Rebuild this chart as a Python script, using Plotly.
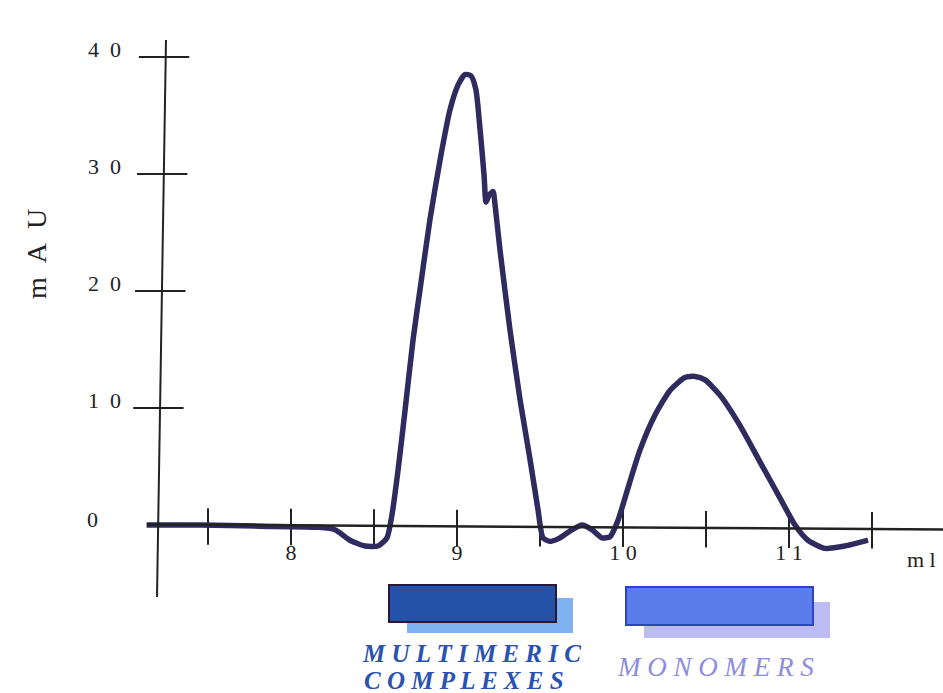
import plotly.graph_objects as go

# ---- data ----
time_ml = [7.13, 7.45, 7.81, 8.17, 8.265, 8.355, 8.446, 8.524, 8.578, 8.608, 8.645, 8.687, 8.735,
           8.777, 8.837, 8.898, 8.958, 9.006, 9.048, 9.084, 9.114, 9.139, 9.163, 9.175, 9.193,
           9.217, 9.229, 9.259, 9.319, 9.380, 9.440, 9.488, 9.518, 9.560, 9.620, 9.693, 9.753,
           9.813, 9.873, 9.922, 9.970, 10.018, 10.102, 10.193, 10.283, 10.373, 10.434, 10.494,
           10.584, 10.705, 10.825, 10.946, 11.036, 11.114, 11.217, 11.337, 11.476]
absorbance_mau = [0.0, 0.0, -0.1, -0.2, -0.4, -1.3, -1.8, -1.8, -1.1, 0.85, 4.7, 9.8, 15.8,
                  20.1, 26.1, 31.2, 35.5, 37.6, 38.5, 38.4, 37.2, 33.8, 29.9, 27.6, 28.2,
                  28.5, 27.4, 23.5, 16.7, 10.7, 5.6, 1.3, -1.1, -1.4, -1.1, -0.4, 0.0,
                  -0.4, -1.1, -1.0, 0.4, 2.6, 6.4, 9.4, 11.5, 12.6, 12.7, 12.4,
                  11.1, 8.5, 5.4, 2.3, 0.0, -1.3, -2.0, -1.8, -1.3]

y_tick_values = [40, 30, 20, 10]
y_tick_labels = ["4\u00a0\u00a00", "3\u00a0\u00a00", "2\u00a0\u00a00", "1\u00a0\u00a00"]
x_tick_values = [7.5, 8, 8.5, 9, 9.5, 10, 10.5, 11, 11.5]
x_label_values = [8, 9, 10, 11]
x_label_texts = ["8", "9", "1 0", "1 1"]

SERIF = "Liberation Serif, Times New Roman, serif"
CURVE = "#2f2b5e"
W, H = 943, 693

# pixel -> data helpers for the frame (figure fills the window, no margins)
def px_x(px):
    return 8 + (px - 291) / 166.0

def px_y(py):
    return (525 - py) / 11.7

X_RANGE = [px_x(0), px_x(W)]
Y_RANGE = [px_y(H), px_y(0)]

# slanted y-axis line
yax_top = (px_x(166), px_y(40))
yax_bot = (px_x(157), px_y(597))

def yaxis_x_at(v):
    t = (v - yax_bot[1]) / (yax_top[1] - yax_bot[1])
    return yax_bot[0] + t * (yax_top[0] - yax_bot[0])

fig = go.Figure()

# y-axis ticks (cross the axis)
fig.add_trace(go.Scatter(
    x=[yaxis_x_at(v) - 0.01 for v in y_tick_values], y=y_tick_values, mode="markers",
    marker=dict(symbol="line-ew", size=36, line=dict(width=2, color="#222")),
    hoverinfo="skip", showlegend=False))

# x-axis ticks
fig.add_trace(go.Scatter(
    x=x_tick_values, y=[-0.1 - 0.08 * (v - 7.13) for v in x_tick_values], mode="markers",
    marker=dict(symbol="line-ns", size=26, line=dict(width=2, color="#222")),
    hoverinfo="skip", showlegend=False))

# chromatogram curve
fig.add_trace(go.Scatter(
    x=time_ml, y=absorbance_mau, mode="lines",
    line=dict(color=CURVE, width=5.5, shape="spline", smoothing=0.6),
    hoverinfo="skip", showlegend=False))

# y tick labels
fig.add_trace(go.Scatter(
    x=[px_x(121)] * len(y_tick_values), y=[v + 0.45 for v in y_tick_values], mode="text",
    text=y_tick_labels, textposition="middle left",
    textfont=dict(family=SERIF, size=22, color="#222"),
    hoverinfo="skip", showlegend=False))
fig.add_trace(go.Scatter(
    x=[px_x(98)], y=[0.3], mode="text", text=["0"], textposition="middle left",
    textfont=dict(family=SERIF, size=22, color="#222"), hoverinfo="skip", showlegend=False))

# x tick labels
fig.add_trace(go.Scatter(
    x=x_label_values, y=[px_y(554)] * len(x_label_values), mode="text",
    text=x_label_texts, textposition="middle center",
    textfont=dict(family=SERIF, size=22, color="#222"),
    hoverinfo="skip", showlegend=False))
fig.add_trace(go.Scatter(
    x=[px_x(907)], y=[px_y(561)], mode="text", text=["m l"], textposition="middle right",
    textfont=dict(family=SERIF, size=22, color="#222"), hoverinfo="skip", showlegend=False))

def pxp(px):
    return px / W

def pyp(py):
    return 1 - py / H

shapes = [
    # x-axis line
    dict(type="line", xref="x", yref="y", x0=px_x(147), y0=0.05, x1=px_x(W), y1=-0.38,
         line=dict(color="#222", width=2.5)),
    # y-axis line
    dict(type="line", xref="x", yref="y", x0=yax_top[0], y0=yax_top[1], x1=yax_bot[0], y1=yax_bot[1],
         line=dict(color="#222", width=2)),
    # legend boxes (shadow first)
    dict(type="rect", xref="paper", yref="paper", x0=pxp(407), x1=pxp(573), y0=pyp(633), y1=pyp(598),
         fillcolor="#7fb2f2", line=dict(width=0), layer="above"),
    dict(type="rect", xref="paper", yref="paper", x0=pxp(389), x1=pxp(556), y0=pyp(622), y1=pyp(585),
         fillcolor="#2352a8", line=dict(width=2, color="#2a1838"), layer="above"),
    dict(type="rect", xref="paper", yref="paper", x0=pxp(644), x1=pxp(830), y0=pyp(638), y1=pyp(602),
         fillcolor="#bcbcf2", line=dict(width=0), layer="above"),
    dict(type="rect", xref="paper", yref="paper", x0=pxp(626), x1=pxp(813), y0=pyp(625), y1=pyp(587),
         fillcolor="#5b7ceb", line=dict(width=2, color="#2c44c4"), layer="above"),
]

common = dict(xref="paper", yref="paper", showarrow=False, xanchor="center", yanchor="middle")
annotations = [
    dict(text="m\u00a0\u00a0A\u00a0\u00a0U", x=pxp(37), y=pyp(254), textangle=-90,
         font=dict(family=SERIF, size=28, color="#222"), **common),
    dict(text="<b><i>M U L T I M E R I C</i></b>", x=pxp(471), y=pyp(653),
         font=dict(family=SERIF, size=25, color="#2a52b0"), **common),
    dict(text="<b><i>C O M P L E X E S</i></b>", x=pxp(464), y=pyp(680),
         font=dict(family=SERIF, size=25, color="#2a52b0"), **common),
    dict(text="<i>M O N O M E R S</i>", x=pxp(715), y=pyp(667),
         font=dict(family=SERIF, size=27, color="#8c8ce2"), **common),
]

fig.update_layout(
    width=W, height=H,
    margin=dict(l=0, r=0, t=0, b=0),
    paper_bgcolor="white", plot_bgcolor="white",
    xaxis=dict(range=X_RANGE, visible=False, fixedrange=True),
    yaxis=dict(range=Y_RANGE, visible=False, fixedrange=True),
    shapes=shapes, annotations=annotations,
    showlegend=False,
)

fig.write_html("out.html", config={"displayModeBar": False},
               post_script="document.body.style.margin='0';document.body.style.overflow='hidden';")
